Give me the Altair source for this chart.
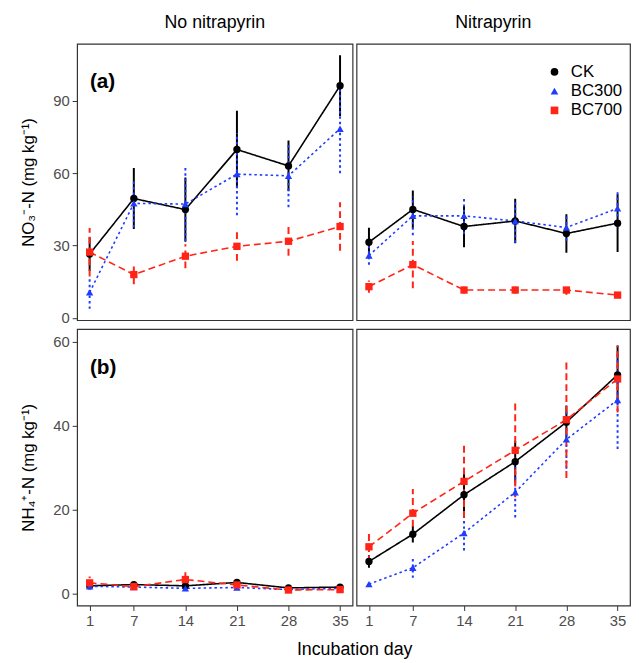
import altair as alt
import pandas as pd

days = [1, 7, 14, 21, 28, 35]
series_names = ["CK", "BC300", "BC700"]
treatments = ["No nitrapyrin", "Nitrapyrin"]
panel_tags = ["(a)", "(b)"]
x_ticks = [1, 7, 14, 21, 28, 35]
no3_ticks = [0, 30, 60, 90]
nh4_ticks = [0, 20, 40, 60]

# NO3-N, no nitrapyrin (mean, error)
no3_none_ck = [26.5, 49.5, 44.9, 69.8, 63.0, 96.2]
no3_none_ck_err = [7.0, 12.6, 13.3, 16.0, 10.5, 12.6]
no3_none_bc300 = [10.6, 47.5, 47.2, 59.6, 58.9, 78.4]
no3_none_bc300_err = [6.8, 10.0, 15.3, 17.0, 13.0, 18.4]
no3_none_bc700 = [27.3, 18.0, 25.6, 29.7, 31.8, 37.9]
no3_none_bc700_err = [10.0, 4.0, 5.0, 6.0, 6.0, 10.0]

# NO3-N, nitrapyrin
no3_nit_ck = [31.4, 45.0, 37.9, 40.2, 35.0, 39.3]
no3_nit_ck_err = [6.0, 7.8, 8.6, 9.2, 8.0, 12.0]
no3_nit_bc300 = [25.9, 42.3, 42.3, 40.2, 37.5, 45.4]
no3_nit_bc300_err = [3.8, 8.0, 7.5, 9.0, 5.5, 7.8]
no3_nit_bc700 = [13.0, 22.1, 11.6, 11.6, 11.6, 9.5]
no3_nit_bc700_err = [2.5, 9.8, 1.5, 1.5, 2.0, 0.8]

# NH4-N, no nitrapyrin
nh4_none_ck = [1.8, 2.1, 1.8, 2.6, 1.3, 1.5]
nh4_none_ck_err = [0.5, 0.4, 0.5, 0.4, 0.3, 0.3]
nh4_none_bc300 = [1.7, 1.5, 1.2, 1.4, 0.9, 1.2]
nh4_none_bc300_err = [0.3, 0.3, 0.3, 0.3, 0.3, 0.3]
nh4_none_bc700 = [2.5, 1.6, 3.3, 2.0, 0.8, 0.9]
nh4_none_bc700_err = [1.5, 0.5, 2.5, 0.6, 0.4, 0.4]

# NH4-N, nitrapyrin
nh4_nit_ck = [7.6, 14.1, 23.5, 31.4, 40.8, 52.1]
nh4_nit_ck_err = [1.5, 2.0, 5.0, 5.0, 4.0, 7.0]
nh4_nit_bc300 = [2.2, 6.1, 14.4, 24.1, 36.7, 46.1]
nh4_nit_bc300_err = [0.5, 2.4, 4.2, 6.0, 7.0, 11.7]
nh4_nit_bc700 = [11.1, 19.1, 26.7, 34.1, 41.4, 51.1]
nh4_nit_bc700_err = [3.8, 5.8, 8.7, 11.2, 13.9, 8.0]

table = {
    ("NO3", "No nitrapyrin"): [(no3_none_ck, no3_none_ck_err), (no3_none_bc300, no3_none_bc300_err), (no3_none_bc700, no3_none_bc700_err)],
    ("NO3", "Nitrapyrin"): [(no3_nit_ck, no3_nit_ck_err), (no3_nit_bc300, no3_nit_bc300_err), (no3_nit_bc700, no3_nit_bc700_err)],
    ("NH4", "No nitrapyrin"): [(nh4_none_ck, nh4_none_ck_err), (nh4_none_bc300, nh4_none_bc300_err), (nh4_none_bc700, nh4_none_bc700_err)],
    ("NH4", "Nitrapyrin"): [(nh4_nit_ck, nh4_nit_ck_err), (nh4_nit_bc300, nh4_nit_bc300_err), (nh4_nit_bc700, nh4_nit_bc700_err)],
}

rows = []
for (var, trt), lst in table.items():
    for s, (means, errs) in zip(series_names, lst):
        for d, m, e in zip(days, means, errs):
            rows.append({"var": var, "trt": trt, "series": s, "day": d,
                         "mean": m, "lo": m - e, "hi": m + e})
df = pd.DataFrame(rows)

color_scale = alt.Scale(domain=series_names, range=["#000000", "#1f3cff", "#ff2416"])
shape_scale = alt.Scale(domain=series_names, range=["circle", "triangle-up", "square"])
dash_scale = alt.Scale(domain=series_names, range=[[1, 0], [2.5, 3], [7, 4]])

legend_def = alt.Legend(title=None, orient="none", legendX=475, legendY=20,
                        labelFontSize=17, labelColor="#000000", symbolSize=60,
                        rowPadding=1.5, labelOffset=8, symbolStrokeWidth=0)

WL, WR, H = 279, 277, 280


def panel(var, trt, ydom, yvals, ytitle, left, bottom, header, tag, width):
    src = alt.Chart(df).transform_filter(
        (alt.datum.var == var) & (alt.datum.trt == trt))
    xscale = alt.Scale(domain=[-0.7, 36.7], nice=False, zero=False)
    if bottom:
        xaxis = alt.Axis(values=x_ticks, title=None, format="d")
    else:
        xaxis = None
    yscale = alt.Scale(domain=ydom, nice=False, zero=False)
    if left:
        yaxis = alt.Axis(values=yvals, title=ytitle, titlePadding=15)
    else:
        yaxis = None
    x = alt.X("day:Q", scale=xscale, axis=xaxis)
    color = alt.Color("series:N", scale=color_scale, legend=legend_def, sort=series_names)
    shape = alt.Shape("series:N", scale=shape_scale, legend=legend_def, sort=series_names)
    dash = alt.StrokeDash("series:N", scale=dash_scale, legend=None, sort=series_names)

    rules = src.mark_rule(strokeWidth=2).encode(
        x=x, y=alt.Y("lo:Q", scale=yscale, axis=yaxis), y2="hi:Q",
        color=color, strokeDash=dash, detail="series:N")
    lines = src.mark_line(strokeWidth=1.6).encode(
        x=x, y=alt.Y("mean:Q", scale=yscale, axis=yaxis),
        color=color, strokeDash=dash, detail="series:N")
    points = src.mark_point(filled=True, size=55, opacity=1).encode(
        x=x, y=alt.Y("mean:Q", scale=yscale, axis=yaxis),
        color=color, shape=shape)
    layers = [rules, lines, points]
    if tag:
        label = alt.Chart(pd.DataFrame({"t": [tag]})).mark_text(
            fontSize=21, fontWeight="bold", align="left", baseline="middle",
            color="#000000").encode(x=alt.value(13), y=alt.value(39), text="t:N")
        layers.append(label)
    props = dict(width=width, height=H)
    if header:
        props["title"] = alt.TitleParams(header, fontSize=18, fontWeight="normal",
                                         anchor="middle", offset=12, color="#000000")
    return alt.layer(*layers).properties(**props)


no3_title = "NO\u2083\u207b-N (mg kg\u207b\u00b9)"
nh4_title = "NH\u2084\u207a-N (mg kg\u207b\u00b9)"
no3_dom = [-0.9, 113.6]
nh4_dom = [-2.9, 63.0]

tl = panel("NO3", "No nitrapyrin", no3_dom, no3_ticks, no3_title, True, False, "No nitrapyrin", "(a)", WL)
tr = panel("NO3", "Nitrapyrin", no3_dom, no3_ticks, no3_title, False, False, "Nitrapyrin", "", WR)
bl = panel("NH4", "No nitrapyrin", nh4_dom, nh4_ticks, nh4_title, True, True, None, "(b)", WL)
br = panel("NH4", "Nitrapyrin", nh4_dom, nh4_ticks, nh4_title, False, True, None, "", WR)

chart = alt.vconcat(
    alt.hconcat(tl, tr, spacing=2),
    alt.hconcat(bl, br, spacing=2),
    spacing=1,
).properties(
    title=alt.TitleParams("Incubation day", orient="bottom", anchor="middle",
                          fontSize=18, fontWeight="normal", offset=12, dx=30,
                          color="#000000"),
    padding={"left": 11, "top": 1, "right": 0, "bottom": 0},
).configure(
    font="Liberation Sans",
).configure_view(
    stroke="#333333", strokeWidth=1.2,
).configure_axis(
    grid=False, domain=False, labelFontSize=15, labelColor="#4D4D4D",
    tickColor="#333333", tickSize=5, tickWidth=1, labelPadding=3,
    titleFontSize=17, titleFontWeight="normal", titleColor="#000000",
)

chart.save("out.html", embed_options={"renderer": "svg", "actions": False})
